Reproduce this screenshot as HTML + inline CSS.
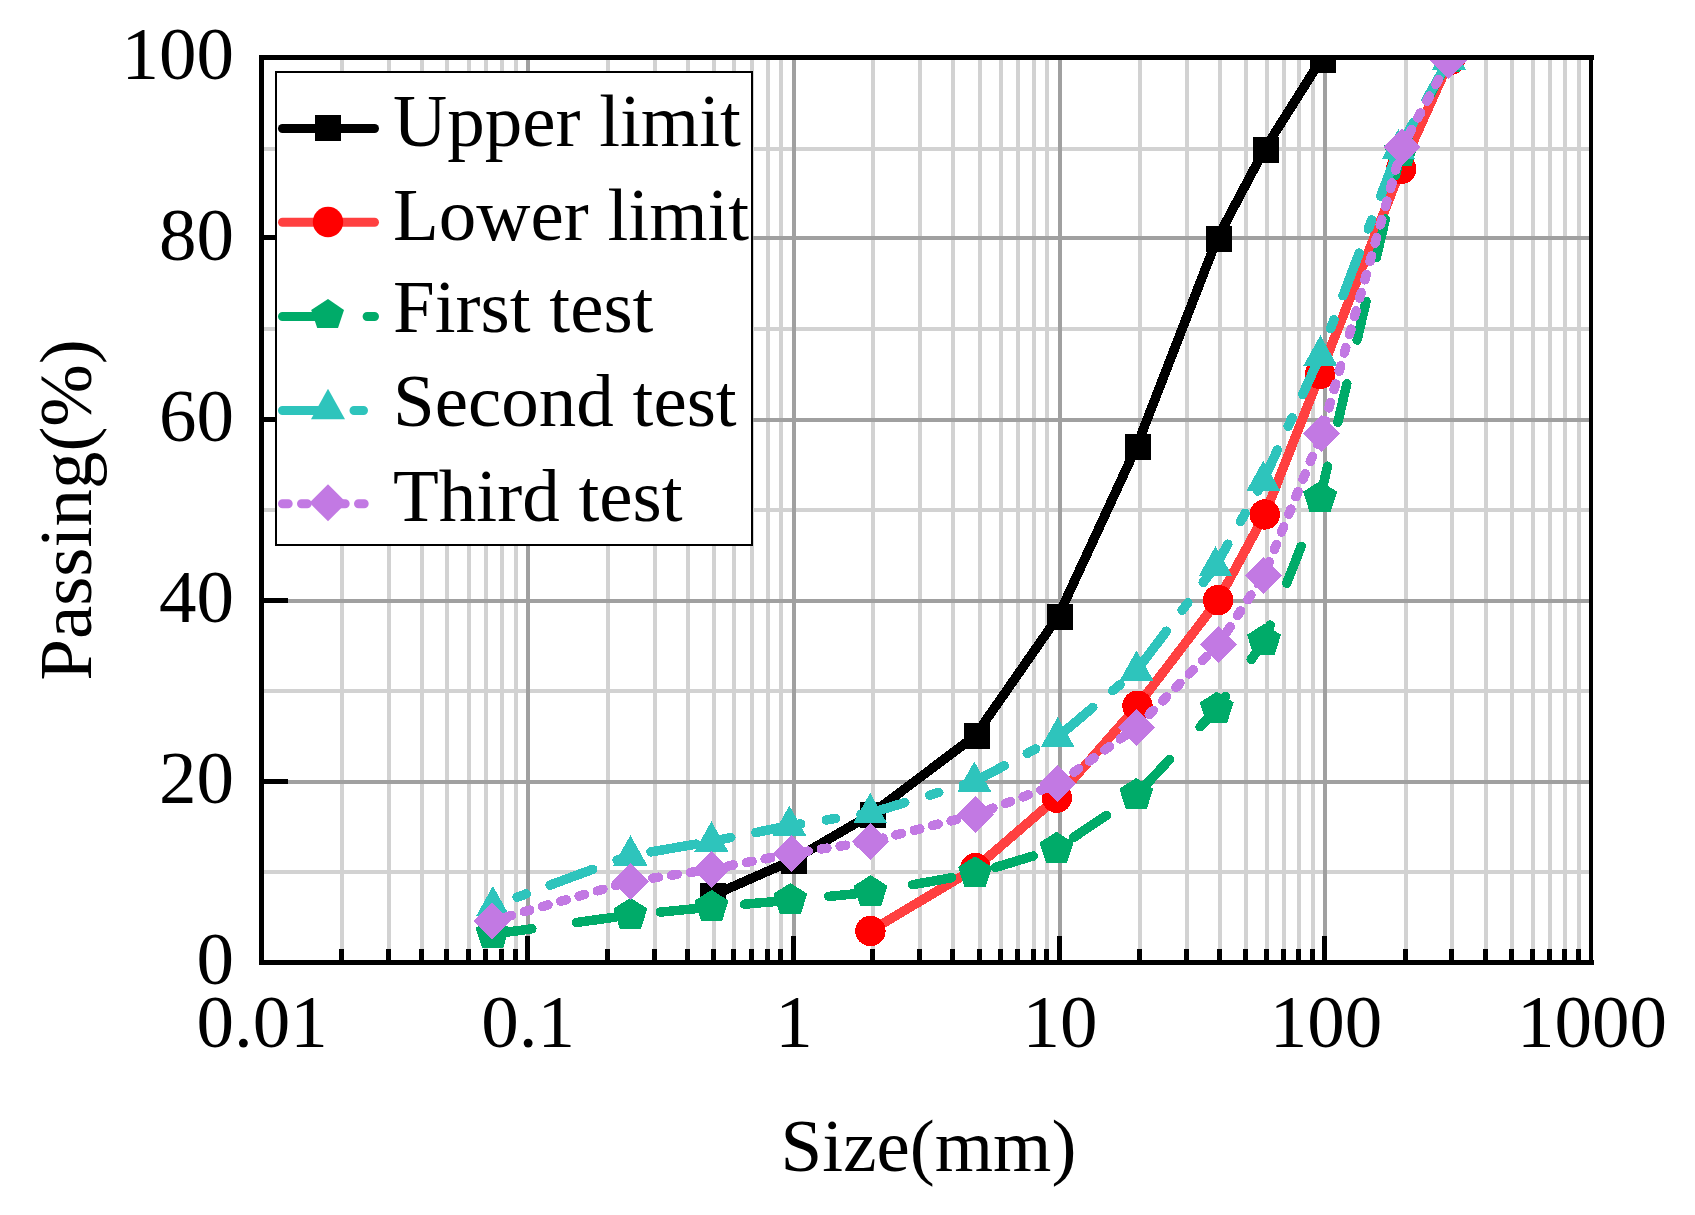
<!DOCTYPE html>
<html><head><meta charset="utf-8"><title>Grading curve</title>
<style>html,body{margin:0;padding:0;background:#fff}svg{display:block}text{font-family:"Liberation Serif","Times New Roman",serif;font-size:75px;fill:#000}</style></head><body>
<svg width="1695" height="1215" viewBox="0 0 1695 1215">
<rect width="1695" height="1215" fill="#fff"/>
<defs><clipPath id="c"><rect x="261.5" y="57.5" width="1330" height="905"/></clipPath></defs>
<g shape-rendering="crispEdges">
<g fill="#d2d2d2"><rect x="340" y="57.5" width="4" height="905"/><rect x="387" y="57.5" width="4" height="905"/><rect x="420" y="57.5" width="4" height="905"/><rect x="445" y="57.5" width="4" height="905"/><rect x="467" y="57.5" width="4" height="905"/><rect x="484" y="57.5" width="4" height="905"/><rect x="500" y="57.5" width="4" height="905"/><rect x="514" y="57.5" width="4" height="905"/><rect x="606" y="57.5" width="4" height="905"/><rect x="653" y="57.5" width="4" height="905"/><rect x="686" y="57.5" width="4" height="905"/><rect x="712" y="57.5" width="4" height="905"/><rect x="732" y="57.5" width="4" height="905"/><rect x="750" y="57.5" width="4" height="905"/><rect x="766" y="57.5" width="4" height="905"/><rect x="779" y="57.5" width="4" height="905"/><rect x="871" y="57.5" width="4" height="905"/><rect x="918" y="57.5" width="4" height="905"/><rect x="951" y="57.5" width="4" height="905"/><rect x="978" y="57.5" width="4" height="905"/><rect x="999" y="57.5" width="4" height="905"/><rect x="1016" y="57.5" width="4" height="905"/><rect x="1032" y="57.5" width="4" height="905"/><rect x="1045" y="57.5" width="4" height="905"/><rect x="1138" y="57.5" width="4" height="905"/><rect x="1185" y="57.5" width="4" height="905"/><rect x="1218" y="57.5" width="4" height="905"/><rect x="1244" y="57.5" width="4" height="905"/><rect x="1265" y="57.5" width="4" height="905"/><rect x="1282" y="57.5" width="4" height="905"/><rect x="1297" y="57.5" width="4" height="905"/><rect x="1311" y="57.5" width="4" height="905"/><rect x="1404" y="57.5" width="4" height="905"/><rect x="1450" y="57.5" width="4" height="905"/><rect x="1484" y="57.5" width="4" height="905"/><rect x="1510" y="57.5" width="4" height="905"/><rect x="1531" y="57.5" width="4" height="905"/><rect x="1548" y="57.5" width="4" height="905"/><rect x="1563" y="57.5" width="4" height="905"/><rect x="1577" y="57.5" width="4" height="905"/><rect x="261.5" y="870" width="1330" height="4"/><rect x="261.5" y="689" width="1330" height="4"/><rect x="261.5" y="508" width="1330" height="4"/><rect x="261.5" y="327" width="1330" height="4"/><rect x="261.5" y="147" width="1330" height="4"/></g>
<g fill="#a0a0a0"><rect x="526" y="57.5" width="4" height="905"/><rect x="792" y="57.5" width="4" height="905"/><rect x="1058" y="57.5" width="4" height="905"/><rect x="1323" y="57.5" width="4" height="905"/><rect x="261.5" y="780" width="1330" height="4"/><rect x="261.5" y="599" width="1330" height="4"/><rect x="261.5" y="418" width="1330" height="4"/><rect x="261.5" y="236" width="1330" height="4"/></g>
</g>
<g clip-path="url(#c)" shape-rendering="crispEdges">
<path d="M711.2 896.1 L792.1 860.5 L870.5 814.7 L975.0 735.9 L1058.0 616.7 L1136.4 447.1 L1217.0 239.0 L1264.1 150.0 L1321.1 59.7" fill="none" stroke="#000000" stroke-width="9.5" stroke-linecap="round" stroke-linejoin="round"/>
<rect x="700.2" y="883.1" width="26" height="26" fill="#000000"/><rect x="781.1" y="847.5" width="26" height="26" fill="#000000"/><rect x="859.5" y="801.7" width="26" height="26" fill="#000000"/><rect x="964.0" y="722.9" width="26" height="26" fill="#000000"/><rect x="1047.0" y="603.7" width="26" height="26" fill="#000000"/><rect x="1125.4" y="434.1" width="26" height="26" fill="#000000"/><rect x="1206.0" y="226.0" width="26" height="26" fill="#000000"/><rect x="1253.1" y="137.0" width="26" height="26" fill="#000000"/><rect x="1310.1" y="46.7" width="26" height="26" fill="#000000"/>
<path d="M870.4 931.0 L975.4 868.1 L1056.9 797.7 L1137.5 705.8 L1218.2 600.1 L1264.8 514.5 L1320.2 373.9 L1401.1 168.9 L1450.0 60.0" fill="none" stroke="#ff4040" stroke-width="9.5" stroke-linecap="round" stroke-linejoin="round"/>
<circle cx="870.4" cy="931.0" r="15.2" fill="#ff0000"/><circle cx="975.4" cy="868.1" r="15.2" fill="#ff0000"/><circle cx="1056.9" cy="797.7" r="15.2" fill="#ff0000"/><circle cx="1137.5" cy="705.8" r="15.2" fill="#ff0000"/><circle cx="1218.2" cy="600.1" r="15.2" fill="#ff0000"/><circle cx="1264.8" cy="514.5" r="15.2" fill="#ff0000"/><circle cx="1320.2" cy="373.9" r="15.2" fill="#ff0000"/><circle cx="1401.1" cy="168.9" r="15.2" fill="#ff0000"/><circle cx="1450.0" cy="60.0" r="15.2" fill="#ff0000"/>
<path d="M492.6 934.2 L630.4 915.0 L711.6 907.1 L790.3 900.2 L870.6 892.3 L975.1 873.5 L1056.5 849.0 L1136.3 795.1 L1216.7 708.9 L1264.0 641.2 L1320.1 498.1 L1401.0 152.0 L1449.0 58.5" fill="none" stroke="#00ab69" stroke-width="9.5" stroke-linecap="round" stroke-linejoin="round" stroke-dasharray="39.6 45.0" stroke-dashoffset="0"/>
<polygon points="492.6,917.0 509.6,927.8 503.1,948.0 482.1,948.0 475.6,927.8" fill="#00ab69"/><polygon points="630.4,897.8 647.4,908.6 640.9,928.8 619.9,928.8 613.4,908.6" fill="#00ab69"/><polygon points="711.6,889.9 728.6,900.7 722.1,920.9 701.1,920.9 694.6,900.7" fill="#00ab69"/><polygon points="790.3,883.0 807.3,893.8 800.8,914.0 779.8,914.0 773.3,893.8" fill="#00ab69"/><polygon points="870.6,875.1 887.6,885.9 881.1,906.1 860.1,906.1 853.6,885.9" fill="#00ab69"/><polygon points="975.1,856.3 992.1,867.1 985.6,887.3 964.6,887.3 958.1,867.1" fill="#00ab69"/><polygon points="1056.5,831.8 1073.5,842.6 1067.0,862.8 1046.0,862.8 1039.5,842.6" fill="#00ab69"/><polygon points="1136.3,777.9 1153.3,788.7 1146.8,808.9 1125.8,808.9 1119.3,788.7" fill="#00ab69"/><polygon points="1216.7,691.7 1233.7,702.5 1227.2,722.7 1206.2,722.7 1199.7,702.5" fill="#00ab69"/><polygon points="1264.0,624.0 1281.0,634.8 1274.5,655.0 1253.5,655.0 1247.0,634.8" fill="#00ab69"/><polygon points="1320.1,480.9 1337.1,491.7 1330.6,511.9 1309.6,511.9 1303.1,491.7" fill="#00ab69"/><polygon points="1401.0,134.8 1418.0,145.6 1411.5,165.8 1390.5,165.8 1384.0,145.6" fill="#00ab69"/><polygon points="1449.0,41.3 1466.0,52.1 1459.5,72.3 1438.5,72.3 1432.0,52.1" fill="#00ab69"/>
<path d="M492.9 906.2 L630.4 855.4 L711.4 841.5 L789.4 825.7 L870.2 813.1 L974.3 781.7 L1057.7 737.1 L1136.6 670.6 L1215.5 566.2 L1263.4 480.7 L1320.4 355.5 L1398.5 149.1 L1449.0 59.5" fill="none" stroke="#2ec4bc" stroke-width="9.5" stroke-linecap="round" stroke-linejoin="round" stroke-dasharray="45.5 26 9.5 25.6" stroke-dashoffset="45.65"/>
<polygon points="492.9,886.0 509.9,916.4 475.9,916.4" fill="#2ec4bc"/><polygon points="630.4,835.2 647.4,865.6 613.4,865.6" fill="#2ec4bc"/><polygon points="711.4,821.3 728.4,851.7 694.4,851.7" fill="#2ec4bc"/><polygon points="789.4,805.5 806.4,835.9 772.4,835.9" fill="#2ec4bc"/><polygon points="870.2,792.9 887.2,823.3 853.2,823.3" fill="#2ec4bc"/><polygon points="974.3,761.5 991.3,791.9 957.3,791.9" fill="#2ec4bc"/><polygon points="1057.7,716.9 1074.7,747.3 1040.7,747.3" fill="#2ec4bc"/><polygon points="1136.6,650.4 1153.6,680.8 1119.6,680.8" fill="#2ec4bc"/><polygon points="1215.5,546.0 1232.5,576.4 1198.5,576.4" fill="#2ec4bc"/><polygon points="1263.4,460.5 1280.4,490.9 1246.4,490.9" fill="#2ec4bc"/><polygon points="1320.4,335.3 1337.4,365.7 1303.4,365.7" fill="#2ec4bc"/><polygon points="1398.5,128.9 1415.5,159.3 1381.5,159.3" fill="#2ec4bc"/><polygon points="1449.0,39.3 1466.0,69.7 1432.0,69.7" fill="#2ec4bc"/>
<path d="M491.9 921.0 L630.4 881.4 L711.6 869.2 L791.4 853.7 L870.2 841.4 L975.6 814.7 L1057.7 783.8 L1136.6 727.2 L1218.4 644.6 L1263.7 575.7 L1321.7 433.4 L1402.0 147.4 L1448.7 60.5" fill="none" stroke="#c279e3" stroke-width="9.5" stroke-linecap="round" stroke-linejoin="round" stroke-dasharray="5.7 13.3" stroke-dashoffset="4.3"/>
<polygon points="491.9,902.5 510.4,921.0 491.9,939.5 473.4,921.0" fill="#c279e3"/><polygon points="630.4,862.9 648.9,881.4 630.4,899.9 611.9,881.4" fill="#c279e3"/><polygon points="711.6,850.7 730.1,869.2 711.6,887.7 693.1,869.2" fill="#c279e3"/><polygon points="791.4,835.2 809.9,853.7 791.4,872.2 772.9,853.7" fill="#c279e3"/><polygon points="870.2,822.9 888.7,841.4 870.2,859.9 851.7,841.4" fill="#c279e3"/><polygon points="975.6,796.2 994.1,814.7 975.6,833.2 957.1,814.7" fill="#c279e3"/><polygon points="1057.7,765.3 1076.2,783.8 1057.7,802.3 1039.2,783.8" fill="#c279e3"/><polygon points="1136.6,708.7 1155.1,727.2 1136.6,745.7 1118.1,727.2" fill="#c279e3"/><polygon points="1218.4,626.1 1236.9,644.6 1218.4,663.1 1199.9,644.6" fill="#c279e3"/><polygon points="1263.7,557.2 1282.2,575.7 1263.7,594.2 1245.2,575.7" fill="#c279e3"/><polygon points="1321.7,414.9 1340.2,433.4 1321.7,451.9 1303.2,433.4" fill="#c279e3"/><polygon points="1402.0,128.9 1420.5,147.4 1402.0,165.9 1383.5,147.4" fill="#c279e3"/><polygon points="1448.7,42.0 1467.2,60.5 1448.7,79.0 1430.2,60.5" fill="#c279e3"/>
</g>
<g shape-rendering="crispEdges" fill="#000">
<rect x="259" y="55" width="1335" height="5"/><rect x="259" y="960" width="1335" height="5"/><rect x="259" y="55" width="5" height="910"/><rect x="1589" y="55" width="4" height="910"/>
<rect x="339" y="949" width="5" height="12"/><rect x="386" y="949" width="5" height="12"/><rect x="419" y="949" width="5" height="12"/><rect x="444" y="949" width="5" height="12"/><rect x="466" y="949" width="5" height="12"/><rect x="483" y="949" width="5" height="12"/><rect x="499" y="949" width="5" height="12"/><rect x="513" y="949" width="5" height="12"/><rect x="525" y="936" width="5" height="25"/><rect x="605" y="949" width="5" height="12"/><rect x="652" y="949" width="5" height="12"/><rect x="685" y="949" width="5" height="12"/><rect x="711" y="949" width="5" height="12"/><rect x="731" y="949" width="5" height="12"/><rect x="749" y="949" width="5" height="12"/><rect x="765" y="949" width="5" height="12"/><rect x="778" y="949" width="5" height="12"/><rect x="791" y="936" width="5" height="25"/><rect x="870" y="949" width="5" height="12"/><rect x="917" y="949" width="5" height="12"/><rect x="950" y="949" width="5" height="12"/><rect x="977" y="949" width="5" height="12"/><rect x="998" y="949" width="5" height="12"/><rect x="1015" y="949" width="5" height="12"/><rect x="1031" y="949" width="5" height="12"/><rect x="1044" y="949" width="5" height="12"/><rect x="1057" y="936" width="5" height="25"/><rect x="1137" y="949" width="5" height="12"/><rect x="1184" y="949" width="5" height="12"/><rect x="1217" y="949" width="5" height="12"/><rect x="1243" y="949" width="5" height="12"/><rect x="1264" y="949" width="5" height="12"/><rect x="1281" y="949" width="5" height="12"/><rect x="1296" y="949" width="5" height="12"/><rect x="1310" y="949" width="5" height="12"/><rect x="1322" y="936" width="5" height="25"/><rect x="1403" y="949" width="5" height="12"/><rect x="1449" y="949" width="5" height="12"/><rect x="1483" y="949" width="5" height="12"/><rect x="1509" y="949" width="5" height="12"/><rect x="1530" y="949" width="5" height="12"/><rect x="1547" y="949" width="5" height="12"/><rect x="1562" y="949" width="5" height="12"/><rect x="1576" y="949" width="5" height="12"/><rect x="264" y="779" width="24" height="5"/><rect x="264" y="598" width="24" height="5"/><rect x="264" y="417" width="24" height="5"/><rect x="264" y="235" width="24" height="5"/>
</g>
<text x="234" y="984.3" text-anchor="end">0</text>
<text x="234" y="803.3" text-anchor="end">20</text>
<text x="234" y="622.3" text-anchor="end">40</text>
<text x="234" y="441.3" text-anchor="end">60</text>
<text x="234" y="260.3" text-anchor="end">80</text>
<text x="234" y="79.3" text-anchor="end">100</text>
<text x="262.0" y="1047.4" text-anchor="middle">0.01</text>
<text x="528.0" y="1047.4" text-anchor="middle">0.1</text>
<text x="794.0" y="1047.4" text-anchor="middle">1</text>
<text x="1060.0" y="1047.4" text-anchor="middle">10</text>
<text x="1326.0" y="1047.4" text-anchor="middle">100</text>
<text x="1592.0" y="1047.4" text-anchor="middle">1000</text>
<text x="928.5" y="1170.8" text-anchor="middle">Size(mm)</text>
<text transform="translate(90.6 510) rotate(-90)" text-anchor="middle">Passing(%)</text>
<rect x="276" y="72" width="476" height="473" fill="#fff" stroke="#000" stroke-width="2" shape-rendering="crispEdges"/>
<path d="M282.5 128.5 H374.5" fill="none" stroke="#000000" stroke-width="9" stroke-linecap="round"/>
<rect x="315.0" y="115.0" width="26" height="26" fill="#000000"/>
<text x="393" y="146.2">Upper limit</text>
<path d="M282.5 222.3 H374.5" fill="none" stroke="#ff4040" stroke-width="9" stroke-linecap="round"/>
<circle cx="328.0" cy="222.0" r="15.2" fill="#ff0000"/>
<text x="393" y="240.4">Lower limit</text>
<path d="M282.5 316.5 H374.5" fill="none" stroke="#00ab69" stroke-width="9" stroke-linecap="round" stroke-dasharray="39.6 45.0"/>
<polygon points="328.0,299.0 344.0,310.0 338.0,328.0 317.2,328.0 311.2,310.0" fill="#00ab69"/>
<text x="393" y="332">First test</text>
<path d="M282.5 410.5 H374.5" fill="none" stroke="#2ec4bc" stroke-width="9" stroke-linecap="round" stroke-dasharray="45.5 26 9.5 25.6"/>
<polygon points="328.0,388.8 345.0,419.2 311.0,419.2" fill="#2ec4bc"/>
<text x="393" y="426.3">Second test</text>
<path d="M282.5 503.8 H374.5" fill="none" stroke="#c279e3" stroke-width="9" stroke-linecap="round" stroke-dasharray="5.7 13.3"/>
<polygon points="328.0,484.3 346.5,502.8 328.0,521.3 309.5,502.8" fill="#c279e3"/>
<text x="393" y="520.5">Third test</text>
</svg></body></html>
